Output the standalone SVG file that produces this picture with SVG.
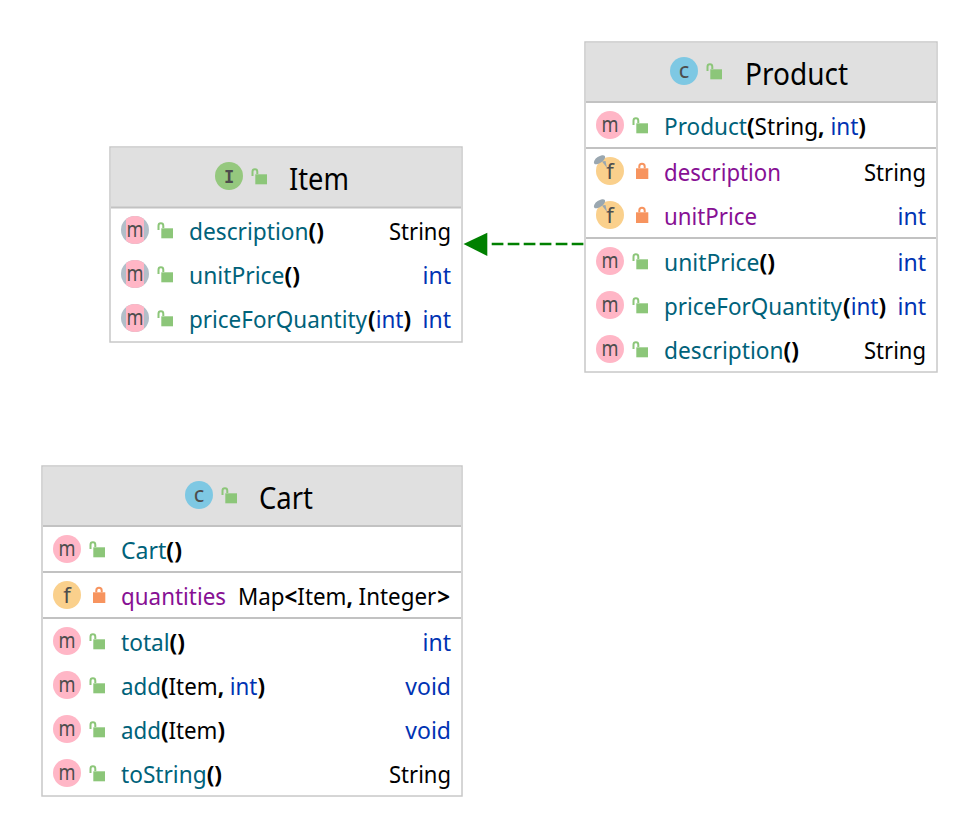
<svg xmlns="http://www.w3.org/2000/svg" width="978" height="838" viewBox="0 0 978 838">
<style>
text{font-family:"Noto Sans","Open Sans","Liberation Sans",sans-serif;font-size:23px;fill:#000}
.t{font-size:30px}
.m{fill:#00627a}
.f{fill:#871094}
.k{fill:#0033b3}
.b{font-weight:bold;fill:#000}
.e{text-anchor:end}
.box{fill:#fff;stroke:#c8c8c8;stroke-width:1.5}
.hd{fill:#e0e0e0}
.sep{stroke:#c2c2c2;stroke-width:2}
.ic{font-size:22px;fill:#4d4d4d;text-anchor:middle}
</style>
<defs>
<g id="pub"><rect x="26.300" y="-1.700" width="11.700" height="10" fill="#8cc679"/><path d="M23.500 0V-4.300a2.400 2.400 0 0 1 4.800 0V-2" fill="none" stroke="#8cc679" stroke-width="2"/></g>
<g id="pri"><rect x="26" y="-2.700" width="12.300" height="10.700" fill="#f7945f"/><path d="M29.300 -2.700V-4.500a2.700 2.700 0 0 1 5.400 0V-2.700" fill="none" stroke="#f7945f" stroke-width="2"/></g>
<g id="im"><circle r="14" fill="#ffb6c6"/><text class="ic" y="6.500" textLength="17" lengthAdjust="spacingAndGlyphs">m</text></g>
<g id="ia"><circle r="14" fill="#b2bec9"/><path d="M-9 -10.800A14 14 0 0 1 9 -10.800V10.800A14 14 0 0 1 -9 10.800Z" fill="#ffb6c6"/><text class="ic" y="6.500" textLength="17" lengthAdjust="spacingAndGlyphs">m</text></g>
<g id="if"><circle r="14" fill="#fad08c"/><text class="ic" y="8">f</text></g>
<g id="ifr"><circle r="14" fill="#fad08c"/><text class="ic" y="8">f</text><ellipse cx="-10.500" cy="-11.300" rx="6.500" ry="3.200" transform="rotate(-35 -10.500 -11.300)" fill="#9aa7b0"/><path d="M-8 -9.500L-3 -3L-4.500 -10Z" fill="#9aa7b0"/></g>
<g id="ic"><circle r="14" fill="#7ec8e3"/><text class="ic" y="6.500">c</text></g>
<g id="ii"><circle r="14" fill="#95c87e"/><text class="ic" y="6.500" style="font-family:'DejaVu Sans Mono',monospace;font-size:17px;font-weight:bold">I</text></g>
</defs>

<g id="connectors">
<line x1="491.700" y1="244" x2="584" y2="244" stroke="#008000" stroke-width="2.500" stroke-dasharray="11.700 4.300"/>
<polygon points="463.500,244 487.300,232.700 487.300,256" fill="#008000"/>
</g>

<g id="item">
<rect class="box" x="110" y="147" width="352" height="195"/>
<rect class="hd" x="111" y="148" width="350" height="59"/>
<line class="sep" x1="111" y1="207.500" x2="461" y2="207.500"/>
<use href="#ii" x="229" y="176"/><use href="#pub" x="229" y="176"/>
<text class="t" x="289" y="190" textLength="60" lengthAdjust="spacingAndGlyphs">Item</text>
<use href="#ia" x="135" y="230"/><use href="#pub" x="135" y="230"/>
<text x="189" y="240" textLength="135" lengthAdjust="spacingAndGlyphs"><tspan class="m">description</tspan><tspan class="b">()</tspan></text><text class="e" x="451" y="240" textLength="62" lengthAdjust="spacingAndGlyphs">String</text>
<use href="#ia" x="135" y="274"/><use href="#pub" x="135" y="274"/>
<text x="189" y="284" textLength="111" lengthAdjust="spacingAndGlyphs"><tspan class="m">unitPrice</tspan><tspan class="b">()</tspan></text><text class="k e" x="451" y="284">int</text>
<use href="#ia" x="135" y="318"/><use href="#pub" x="135" y="318"/>
<text x="189" y="328" textLength="222" lengthAdjust="spacingAndGlyphs"><tspan class="m">priceForQuantity</tspan><tspan class="b" dx="1">(</tspan><tspan class="k">int</tspan><tspan class="b">)</tspan></text><text class="k e" x="451" y="328">int</text>
</g>

<g id="product">
<rect class="box" x="585" y="42" width="352" height="330"/>
<rect class="hd" x="586" y="43" width="350" height="58"/>
<line class="sep" x1="586" y1="102" x2="936" y2="102"/>
<line class="sep" x1="586" y1="148" x2="936" y2="148"/>
<line class="sep" x1="586" y1="238" x2="936" y2="238"/>
<use href="#ic" x="684" y="71"/><use href="#pub" x="684" y="71"/>
<text class="t" x="745" y="85" textLength="103" lengthAdjust="spacingAndGlyphs">Product</text>
<use href="#im" x="610" y="125"/><use href="#pub" x="610" y="125"/>
<text x="664" y="135" textLength="202" lengthAdjust="spacingAndGlyphs"><tspan class="m">Product</tspan><tspan class="b">(</tspan>String<tspan class="b">,</tspan> <tspan class="k">int</tspan><tspan class="b">)</tspan></text>
<use href="#ifr" x="610" y="171"/><use href="#pri" x="610" y="171"/>
<text class="f" x="664" y="181" textLength="117" lengthAdjust="spacingAndGlyphs">description</text><text class="e" x="926" y="181" textLength="62" lengthAdjust="spacingAndGlyphs">String</text>
<use href="#ifr" x="610" y="215"/><use href="#pri" x="610" y="215"/>
<text class="f" x="664" y="225" textLength="93" lengthAdjust="spacingAndGlyphs">unitPrice</text><text class="k e" x="926" y="225">int</text>
<use href="#im" x="610" y="261"/><use href="#pub" x="610" y="261"/>
<text x="664" y="271" textLength="111" lengthAdjust="spacingAndGlyphs"><tspan class="m">unitPrice</tspan><tspan class="b">()</tspan></text><text class="k e" x="926" y="271">int</text>
<use href="#im" x="610" y="305"/><use href="#pub" x="610" y="305"/>
<text x="664" y="315" textLength="222" lengthAdjust="spacingAndGlyphs"><tspan class="m">priceForQuantity</tspan><tspan class="b" dx="1">(</tspan><tspan class="k">int</tspan><tspan class="b">)</tspan></text><text class="k e" x="926" y="315">int</text>
<use href="#im" x="610" y="349"/><use href="#pub" x="610" y="349"/>
<text x="664" y="359" textLength="135" lengthAdjust="spacingAndGlyphs"><tspan class="m">description</tspan><tspan class="b">()</tspan></text><text class="e" x="926" y="359" textLength="62" lengthAdjust="spacingAndGlyphs">String</text>
</g>

<g id="cart">
<rect class="box" x="42" y="466" width="420" height="330"/>
<rect class="hd" x="43" y="467" width="418" height="58"/>
<line class="sep" x1="43" y1="526" x2="461" y2="526"/>
<line class="sep" x1="43" y1="572" x2="461" y2="572"/>
<line class="sep" x1="43" y1="618" x2="461" y2="618"/>
<use href="#ic" x="199" y="495"/><use href="#pub" x="199" y="495"/>
<text class="t" x="259" y="509" textLength="54" lengthAdjust="spacingAndGlyphs">Cart</text>
<use href="#im" x="67" y="549"/><use href="#pub" x="67" y="549"/>
<text x="121" y="559" textLength="61" lengthAdjust="spacingAndGlyphs"><tspan class="m">Cart</tspan><tspan class="b">()</tspan></text>
<use href="#if" x="67" y="595"/><use href="#pri" x="67" y="595"/>
<text class="f" x="121" y="605" textLength="105" lengthAdjust="spacingAndGlyphs">quantities</text><text x="238" y="605" textLength="212" lengthAdjust="spacingAndGlyphs">Map<tspan class="b">&lt;</tspan>Item<tspan class="b">,</tspan> Integer<tspan class="b" dx="1">&gt;</tspan></text>
<use href="#im" x="67" y="641"/><use href="#pub" x="67" y="641"/>
<text x="121" y="651" textLength="64" lengthAdjust="spacingAndGlyphs"><tspan class="m">total</tspan><tspan class="b">()</tspan></text><text class="k e" x="451" y="651">int</text>
<use href="#im" x="67" y="685"/><use href="#pub" x="67" y="685"/>
<text x="121" y="695" textLength="144" lengthAdjust="spacingAndGlyphs"><tspan class="m">add</tspan><tspan class="b">(</tspan>Item<tspan class="b">,</tspan> <tspan class="k">int</tspan><tspan class="b">)</tspan></text><text class="k e" x="451" y="695">void</text>
<use href="#im" x="67" y="729"/><use href="#pub" x="67" y="729"/>
<text x="121" y="739" textLength="104" lengthAdjust="spacingAndGlyphs"><tspan class="m">add</tspan><tspan class="b">(</tspan>Item<tspan class="b">)</tspan></text><text class="k e" x="451" y="739">void</text>
<use href="#im" x="67" y="773"/><use href="#pub" x="67" y="773"/>
<text x="121" y="783" textLength="101" lengthAdjust="spacingAndGlyphs"><tspan class="m">toString</tspan><tspan class="b">()</tspan></text><text class="e" x="451" y="783" textLength="62" lengthAdjust="spacingAndGlyphs">String</text>
</g>
</svg>
